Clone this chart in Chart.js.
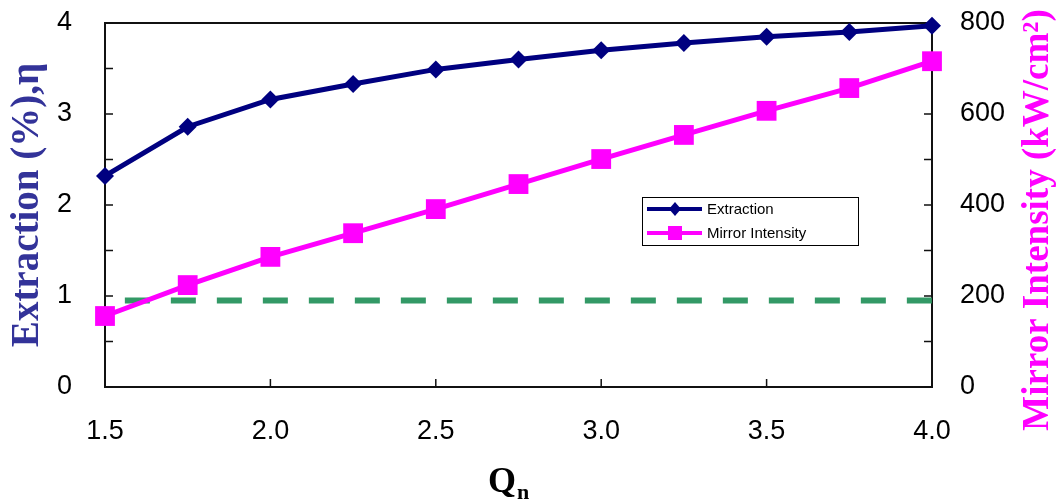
<!DOCTYPE html>
<html>
<head>
<meta charset="utf-8">
<title>Extraction and mirror intensity vs Qn</title>
<script src="https://cdn.jsdelivr.net/npm/chart.js@4.4.0/dist/chart.umd.min.js"></script>
<style>
  html, body { margin: 0; padding: 0; background: #fff; }
  #wrap { width: 1057px; height: 503px; position: relative; }
</style>
</head>
<body>
<div id="wrap"><canvas id="qnChart"></canvas></div>
<script>
// values
const qn = [1.5, 1.75, 2.0, 2.25, 2.5, 2.75, 3.0, 3.25, 3.5, 3.75, 4.0];
const extraction = [2.32, 2.86, 3.16, 3.33, 3.49, 3.60, 3.70, 3.78, 3.85, 3.90, 3.97];
const mirrorIntensity = [156, 224, 286, 338, 391, 446, 501, 554, 607, 657, 716];
// dashed green reference line (left axis units)
const refX = [1.56, 4.0];
const refY = [0.95, 0.95];

const seriesNames = ["Extraction", "Mirror Intensity"];
const leftTitle = "Extraction (%),\u03b7";
const rightTitle = "Mirror Intensity (kW/cm\u00b2)";

const tickFont = { family: "'Liberation Sans', Arial, sans-serif", size: 27 };

//zip x and y into points
function toPoints(xs, ys) {
  return xs.map((x, i) => { return { x: x, y: ys[i] }; });
}

// box frame + inward tick marks
const frame = {
  id: "frame",
  beforeDatasetsDraw(chart) {
    const ctx = chart.ctx;
    const a = chart.chartArea;
    ctx.save();
    ctx.strokeStyle = "#111";
    ctx.lineWidth = 2;
    ctx.strokeRect(a.left, a.top, a.right - a.left, a.bottom - a.top);
    ctx.lineWidth = 1.5;
    ctx.beginPath();
    chart.scales.x.ticks.forEach(t => {
      const px = chart.scales.x.getPixelForValue(t.value);
      ctx.moveTo(px, a.bottom);
      ctx.lineTo(px, a.bottom - 8);
    });
    chart.scales.y.ticks.forEach(t => {
      const py = chart.scales.y.getPixelForValue(t.value);
      ctx.moveTo(a.left, py);
      ctx.lineTo(a.left + 8, py);
    });
    chart.scales.y1.ticks.forEach(t => {
      const py = chart.scales.y1.getPixelForValue(t.value);
      ctx.moveTo(a.right, py);
      ctx.lineTo(a.right - 8, py);
    });
    ctx.stroke();
    ctx.restore();
  },
  afterDraw(chart) {
    const ctx = chart.ctx;
    ctx.save();
    // right axis title, reading bottom to top
    ctx.translate(1038, 220);
    ctx.rotate(-Math.PI / 2);
    ctx.fillStyle = "#ff00ff";
    ctx.font = "bold 37px 'Liberation Serif', 'Times New Roman', serif";
    ctx.textAlign = "center";
    ctx.textBaseline = "middle";
    ctx.fillText(rightTitle, 0, 0);
    ctx.restore();

    // x title Q with subscript n
    ctx.save();
    ctx.fillStyle = "#000";
    ctx.textBaseline = "alphabetic";
    ctx.font = "bold 36px 'Liberation Serif', 'Times New Roman', serif";
    ctx.fillText("Q", 488, 492);
    ctx.font = "bold 22px 'Liberation Serif', 'Times New Roman', serif";
    ctx.fillText("n", 517, 499);
    ctx.restore();
  }
};

// legend box inside the plot
const boxLegend = {
  id: "boxLegend",
  afterDatasetsDraw(chart) {
    const ctx = chart.ctx;
    const bx = 642, by = 197, bw = 216, bh = 48;
    ctx.save();
    ctx.fillStyle = "#fff";
    ctx.fillRect(bx, by, bw, bh);
    ctx.strokeStyle = "#000";
    ctx.lineWidth = 1;
    ctx.strokeRect(bx + 0.5, by + 0.5, bw, bh);
    const rows = [by + 12, by + 36];
    for (let i = 0; i < 2; i++) {
      const ds = chart.data.datasets[i];
      const y = rows[i];
      ctx.strokeStyle = ds.borderColor;
      ctx.lineWidth = 4;
      ctx.beginPath();
      ctx.moveTo(bx + 5, y);
      ctx.lineTo(bx + 60, y);
      ctx.stroke();
      ctx.fillStyle = ds.borderColor;
      const cx = bx + 33;
      if (ds.pointStyle === "rectRot") {
        ctx.beginPath();
        ctx.moveTo(cx, y - 7);
        ctx.lineTo(cx + 6, y);
        ctx.lineTo(cx, y + 7);
        ctx.lineTo(cx - 6, y);
        ctx.closePath();
        ctx.fill();
      } else {
        ctx.fillRect(cx - 7, y - 7, 14, 14);
      }
      ctx.fillStyle = "#000";
      ctx.font = "15px 'Liberation Sans', Arial, sans-serif";
      ctx.textBaseline = "middle";
      ctx.fillText(seriesNames[i], bx + 65, y + 1);
    }
    ctx.restore();
  }
};

// fixed axis box sizes so the plot area lands where the original has it
function fixVertical(width) {
  return s => {
    s.width = width;
    s.paddingTop = 0;
    s.paddingBottom = 0;
  };
}

const ctx = document.getElementById("qnChart");

new Chart(ctx, {
  type: "line",
  data: {
    datasets: [{
      label: seriesNames[0],
      data: toPoints(qn, extraction),
      yAxisID: "y",
      borderColor: "#000080",
      backgroundColor: "#000080",
      borderWidth: 5,
      pointStyle: "rectRot",
      pointRadius: 9,
      pointBorderWidth: 0,
      clip: false,
      order: 1
    }, {
      label: seriesNames[1],
      data: toPoints(qn, mirrorIntensity),
      yAxisID: "y1",
      borderColor: "#ff00ff",
      backgroundColor: "#ff00ff",
      borderWidth: 5,
      pointStyle: "rect",
      pointRadius: 14,
      pointBorderWidth: 0,
      clip: false,
      order: 2
    }, {
      label: "reference",
      data: toPoints(refX, refY),
      yAxisID: "y",
      borderColor: "#339966",
      borderWidth: 6,
      borderDash: [25, 21],
      pointRadius: 0,
      order: 3
    }]
  },
  options: {
    responsive: true,
    maintainAspectRatio: false,
    animation: false,
    layout: { padding: { top: 23, left: 0, right: 0, bottom: 0 } },
    plugins: {
      legend: { display: false },
      tooltip: { enabled: false }
    },
    scales: {
      x: {
        type: "linear",
        min: 1.5,
        max: 4.0,
        grid: { display: false, drawTicks: false },
        border: { display: false },
        ticks: {
          stepSize: 0.5,
          padding: 28,
          color: "#000",
          font: tickFont,
          callback: v => v.toFixed(1)
        },
        afterFit: s => {
          s.height = 116;
          s.paddingLeft = 0;
          s.paddingRight = 0;
        }
      },
      y: {
        position: "left",
        min: 0,
        max: 4,
        grid: { display: false, drawTicks: false },
        border: { display: false },
        ticks: {
          stepSize: 0.5,
          padding: 33,
          color: "#000",
          font: tickFont,
          callback: v => Number.isInteger(v) ? v : ""
        },
        title: {
          display: true,
          text: leftTitle,
          color: "#333399",
          font: { family: "'Liberation Serif', 'Times New Roman', serif", size: 39, weight: "bold" },
          padding: { top: 5, bottom: 0 }
        },
        afterFit: fixVertical(105)
      },
      y1: {
        position: "right",
        min: 0,
        max: 800,
        grid: { display: false, drawTicks: false },
        border: { display: false },
        ticks: {
          stepSize: 100,
          padding: 28,
          color: "#000",
          font: tickFont,
          callback: v => v % 200 === 0 ? v : ""
        },
        afterFit: fixVertical(125)
      }
    }
  },
  plugins: [frame, boxLegend]
});
</script>
</body>
</html>
